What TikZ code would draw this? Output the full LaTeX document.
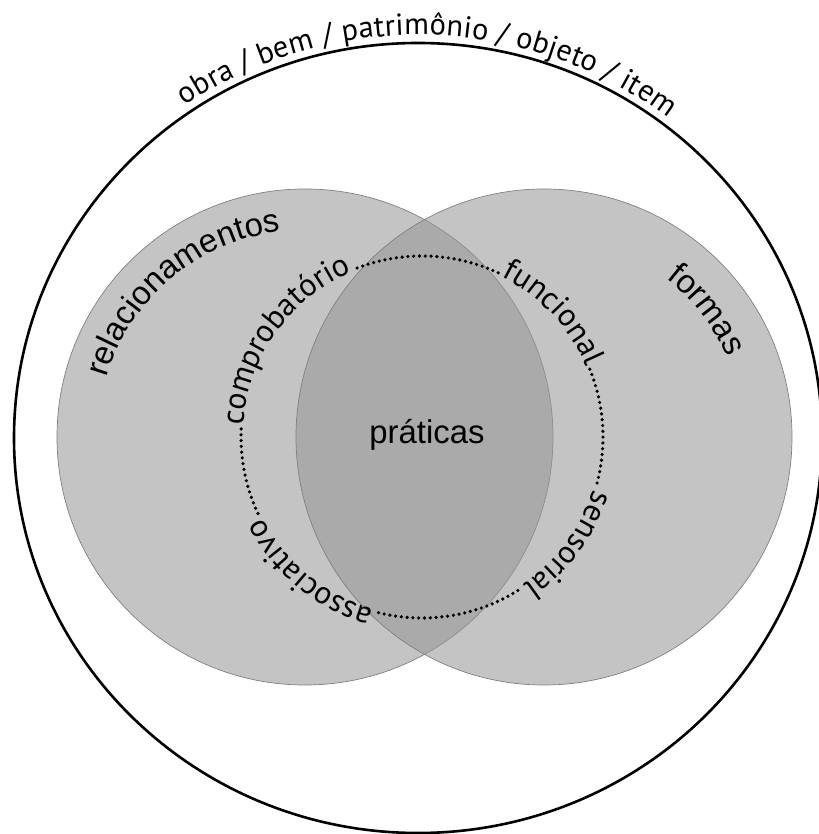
\documentclass[tikz,border=0pt]{standalone}
\usepackage{fontspec}
\setmainfont{Liberation Sans}
\newfontfamily\arcfont{PT Sans}
\usetikzlibrary{decorations.text}

\tikzset{
  venn/.style={fill=black!41, fill opacity=0.56, draw=black!50, line width=0.7bp},
  dotring/.style={line width=3.6bp, dash pattern=on 0bp off 5.8bp, line cap=round},
  ringtext/.style 2 args={decorate, decoration={text along path, text align=center,
      raise=#1, text={|\arcfont\fontsize{32}{38}\selectfont|#2}}},
  outertext/.style={decorate, decoration={text along path, text align=center,
      raise=8bp, text={|\arcfont\fontsize{30.5}{36}\selectfont|#1}}},
  bigtext/.style={decorate, decoration={text along path, text align=center,
      text={|\fontsize{33}{40}\selectfont|#1}}},
}

\begin{document}
\begin{tikzpicture}[x=1bp,y=1bp]
\useasboundingbox (0,0) rectangle (819,834);
\clip (0,0) rectangle (819,834);

% centres
\coordinate (O) at (418,396);
\coordinate (L) at (305,397);
\coordinate (R) at (544,397);
\coordinate (D) at (422,397);

% outer ring
\draw[line width=2.6bp] (O) ellipse[x radius=404bp, y radius=395bp];

% the two overlapping sets
\path[venn] (L) circle[radius=248bp];
\path[venn] (R) circle[radius=248bp];

% dotted ring, broken where its four words sit
\draw[dotring] ([shift={(111:181bp)}]D) arc[start angle=111, end angle=65, radius=181bp];
\draw[dotring] ([shift={(22:181bp)}]D) arc[start angle=22, end angle=-15, radius=181bp];
\draw[dotring] ([shift={(-58:181bp)}]D) arc[start angle=-58, end angle=-104, radius=181bp];
\draw[dotring] ([shift={(205:181bp)}]D) arc[start angle=205, end angle=177, radius=181bp];

% words on the dotted ring
\path[ringtext={-2bp}{comprobatório}] ([shift={(189.7:181bp)}]D) arc[start angle=189.7, end angle=99.7, radius=181bp];
\path[ringtext={-2bp}{funcional}] ([shift={(88.3:181bp)}]D) arc[start angle=88.3, end angle=-1.7, radius=181bp];
\path[ringtext={-2bp}{sensorial}] ([shift={(8.5:181bp)}]D) arc[start angle=8.5, end angle=-81.5, radius=181bp];
\path[ringtext={-2bp}{associativo}] ([shift={(275.6:181bp)}]D) arc[start angle=275.6, end angle=185.6, radius=181bp];

% words on the outer ring
\path[outertext={obra / bem / patrimônio / objeto / item}] ([shift={(158.5:404bp and 395bp)}]O) arc[start angle=158.5, end angle=18.5, x radius=404bp, y radius=395bp];

% set labels
\path[bigtext={relacionamentos}] ([shift={(200:207bp)}]L) arc[start angle=200, end angle=60, radius=207bp];
\path[bigtext={formas}] ([shift={(83:200bp)}]R) arc[start angle=83, end angle=-7, radius=200bp];

\node[font=\fontsize{33}{40}\selectfont, inner sep=0] (prat) at (427,399) {práticas};
\end{tikzpicture}
\end{document}
